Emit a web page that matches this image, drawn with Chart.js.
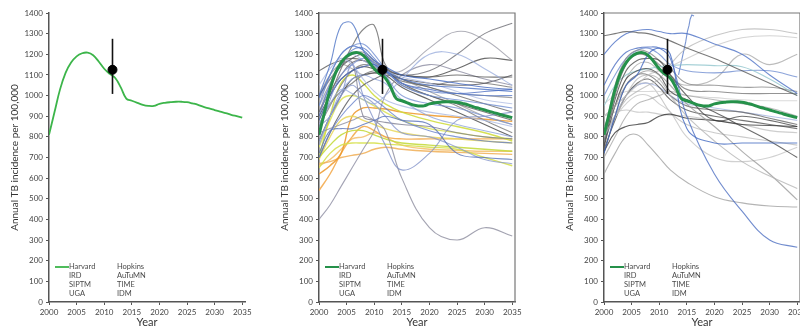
<!DOCTYPE html>
<html>
<head>
<meta charset="utf-8">
<script src="https://cdn.jsdelivr.net/npm/chart.js@4/dist/chart.umd.min.js"></script>
<style>
  body { margin: 0; width: 800px; height: 329px; overflow: hidden; background: #fff; position: relative; }
  canvas { position: absolute; top: 0; }
</style>
</head>
<body>
<canvas id="panel1" width="268" height="329" style="left:0px"></canvas>
<canvas id="panel2" width="268" height="329" style="left:270px"></canvas>
<canvas id="panel3" width="268" height="329" style="left:555px"></canvas>
<script>
// ---- data ----
const harvardYears = [2000,2001,2002,2003,2004,2005,2006,2007,2008,2009,2010,2011,2012,2013,2014,2015,2016,2017,
  2018,2019,2020,2021,2022,2023,2024,2025,2026,2027,2028,2029,2030,2031,2032,2033,2034,2035];
const harvard = [810,920,1030,1110,1160,1190,1205,1208,1195,1165,1130,1105,1085,1040,985,975,965,955,
  950,950,960,965,968,970,970,968,962,955,945,938,930,922,915,907,900,893];

const observedYear = 2011.5;
const observedValue = 1125;
const observedRange = [1008, 1275];

const legendCol1 = ['Harvard', 'IRD', 'SIPTM', 'UGA'];
const legendCol2 = ['Hopkins', 'AuTuMN', 'TIME', 'IDM'];

// sampled years for the other model runs
const runYears = [2000, 2002, 2004, 2006, 2008, 2010, 2012, 2015, 2020, 2025, 2030, 2035];

const panel2Runs = [
  [1000,1150,1340,1350,1220,1150,1120,1080,1050,1040,1030,1020],
  [950,1100,1200,1240,1250,1200,1130,1050,1000,980,960,940],
  [900,1050,1150,1220,1230,1180,1120,1060,1020,1010,1000,1000],
  [820,980,1100,1150,1180,1160,1100,1000,960,940,900,860],
  [780,900,1020,1080,1100,1080,1060,980,900,860,830,800],
  [860,960,1030,1010,980,960,1000,1080,1200,1200,1130,1050],
  [700,820,900,960,1000,980,940,880,830,800,780,770],
  [1050,1130,1180,1150,1080,1020,980,950,920,900,880,850],
  [720,830,840,840,860,880,900,880,860,720,700,690],
  [760,900,1000,1050,1000,960,900,820,800,750,690,670],
  [990,1100,1200,1240,1220,1170,1140,1100,1080,1060,1040,1030],
  [880,1000,1080,1120,1140,1150,1120,1060,1030,1010,1020,1030],
  [850,900,1000,1150,1000,880,760,640,720,880,900,920],
  [950,1050,1160,1200,1170,1140,1120,1090,1060,1020,980,960],
  [880,1000,1130,1240,1320,1340,1150,1080,1040,1000,960,920],
  [1120,1150,1170,1180,1170,1140,1120,1100,1090,1100,1090,1090],
  [920,1020,1100,1160,1170,1150,1130,1100,1120,1200,1300,1350],
  [980,1080,1150,1200,1200,1160,1120,1120,1230,1310,1270,1170],
  [900,1000,1080,1120,1140,1130,1120,1100,1090,1130,1180,1170],
  [400,470,560,650,740,830,1000,1100,1150,1120,1080,1050],
  [820,840,860,880,900,880,830,600,360,300,360,320],
  [1000,1080,1140,1180,1200,1160,1130,1060,1000,960,920,880],
  [850,950,1050,1120,1150,1140,1120,1050,1000,950,880,820],
  [780,900,1000,1080,1100,1110,1100,1040,980,920,860,800],
  [950,1060,1160,1200,1210,1170,1130,1080,1040,1010,1000,990],
  [700,820,920,1000,1050,1080,1100,1080,1060,1050,1060,1100],
  [1000,1100,1150,1130,1100,1110,1110,1080,1020,960,900,860],
  [860,960,1020,1060,1100,1120,1110,1070,1050,1070,1060,1040],
  [920,1050,1150,1160,900,880,870,860,850,820,800,790],
  [700,900,1060,1100,1060,1000,960,920,880,850,820,780],
  [750,880,980,1000,980,950,920,880,840,820,800,790],
  [700,760,810,830,830,810,790,770,760,750,740,730],
  [650,720,760,770,770,770,765,760,750,740,700,660],
  [690,800,880,900,880,860,840,820,800,790,780,770],
  [620,660,720,900,940,940,935,920,905,895,885,875],
  [540,620,720,800,850,830,800,790,790,790,790,790],
  [670,680,700,710,720,740,750,740,730,725,720,715],
  [660,690,740,790,800,820,800,760,740,735,730,730]
];
const panel2Colors = [
  '#4a72c4','#6d8bd0','#5a7cc8','#7a93d4','#8fa3da','#9aaedc','#6680c8','#a8b8e0','#5570b8','#8898cc',
  '#3f66bf','#4d6ec2','#8090c8','#b0bde3','#666666','#555555','#6a6a72','#9a9aa6','#444444','#8a8aa0',
  '#8a8a9c','#555555','#777777','#3f3f3f','#888888','#505058','#9b9b9b','#6e6e6e','#7c7c90',
  '#cfdc3c','#dde45a','#c4d93a','#d6e04c','#e8d860','#ee9a2c','#f2a84a','#f0b05a','#f4c070'
];

const panel3Runs = [
  [1290,1300,1310,1305,1300,1285,1265,1230,1180,1120,1060,1000],
  [1200,1260,1300,1315,1320,1310,1300,1300,1250,1200,1100,1010],
  [1050,1150,1210,1230,1235,1230,1180,900,620,440,300,265],
  [720,900,1050,1100,1200,1230,1200,840,770,770,770,770],
  [620,720,800,810,760,700,640,580,510,480,465,460],
  [800,900,1000,1080,1100,1080,1000,900,780,680,610,550],
  [850,950,1050,1100,1120,1100,1050,960,850,730,620,495],
  [750,950,1080,1120,1130,1100,1020,980,920,850,780,700],
  [730,820,850,860,870,900,910,890,880,860,855,850],
  [760,980,1120,1170,1180,1170,1100,1000,880,900,880,850],
  [820,900,980,1020,1050,1080,1150,1230,1290,1320,1320,1300],
  [900,950,1000,1050,1100,1120,1140,1180,1240,1280,1290,1280],
  [950,1050,1100,1120,1130,1140,1145,1150,1145,1140,1080,1000],
  [780,1000,1150,1200,1190,1150,1100,1030,1020,1010,1010,1010],
  [800,1050,1180,1220,1210,1170,1130,1060,1050,1040,1040,1020],
  [720,900,1050,1100,1100,1060,1000,950,930,920,890,860],
  [900,920,930,920,920,910,905,900,880,860,830,820],
  [700,800,900,960,980,1000,1020,1000,980,960,940,900],
  [850,900,960,1000,1000,960,920,800,700,680,700,750],
  [1000,1100,1180,1220,1230,1200,1150,1120,1110,1120,1120,1090],
  [820,950,1080,1150,1160,1120,1080,1050,1080,1200,1150,1200],
  [740,880,1000,1060,1080,1040,980,930,900,880,860,840],
  [960,1000,1020,1020,1020,1020,1010,1000,990,980,975,975],
  [780,900,1000,1050,1060,1040,1000,960,940,920,900,880],
  [900,950,1000,1050,1060,1000,920,860,820,800,780,760]
];
const panel3Colors = [
  '#555555','#4a6fc4','#4a6cc0','#3f66bf','#a0a0a0','#b4b4b4','#999999','#444444','#333333','#4a4a4a',
  '#b8b8b8','#c8c8c8','#8fc4cc','#777777','#888888','#666666','#c0c0c0','#a8a8a8','#c4c4c4','#6d8bd0',
  '#aaaaaa','#505050','#d0d0d0','#a3b4e0','#bdbdbd'
];

// jagged blue run near 2015 in the third panel
const spikeYears = [2013.5, 2014.3, 2014.8, 2015.1, 2015.4, 2015.6, 2015.9, 2016.3];
const spikeValues = [1100, 1200, 1260, 1310, 1340, 1370, 1390, 1385];

// ---- drawing ----
const FONT = 'Lato, "Open Sans", sans-serif';

const pts = (xs, ys) => xs.map((x, i) => ({ x: x, y: ys[i] }));

const legendPlugin = {
  id: 'modelLegend',
  afterDatasetsDraw(chart, args, opts) {
    const { ctx, chartArea } = chart;
    const l = chartArea.left, b = chartArea.bottom;
    ctx.save();
    ctx.font = '7.5px ' + FONT;
    ctx.fillStyle = '#4a4a4a';
    ctx.textBaseline = 'middle';
    legendCol1.forEach((t, i) => ctx.fillText(t, l + 20, b - 35 + i * 9));
    legendCol2.forEach((t, i) => ctx.fillText(t, l + 68, b - 35 + i * 9));
    ctx.strokeStyle = opts.color;
    ctx.lineWidth = opts.width;
    ctx.beginPath();
    ctx.moveTo(l + 6, b - 35);
    ctx.lineTo(l + 20, b - 35);
    ctx.stroke();
    ctx.restore();
  }
};

const framePlugin = {
  id: 'frame',
  afterDraw(chart, args, opts) {
    if (!opts.show) return;
    const { ctx, chartArea } = chart;
    ctx.save();
    ctx.strokeStyle = '#777';
    ctx.lineWidth = 1.2;
    ctx.beginPath();
    ctx.moveTo(chartArea.left, chartArea.top);
    ctx.lineTo(chartArea.right, chartArea.top);
    ctx.lineTo(chartArea.right, chartArea.bottom);
    ctx.stroke();
    ctx.restore();
  }
};

function makePanel(id, runs, colors, greenColor, greenWidth, boxed, extra) {
  const datasets = [
    { type: 'scatter', data: [{ x: observedYear, y: observedValue }], pointRadius: 4.5,
      backgroundColor: '#000', borderColor: '#000', order: 0 },
    { type: 'line', data: pts([observedYear, observedYear], observedRange), borderColor: '#111',
      borderWidth: 1.6, pointRadius: 0, tension: 0, order: 1 },
    { type: 'line', label: 'Harvard', data: pts(harvardYears, harvard), borderColor: greenColor,
      borderWidth: greenWidth, pointRadius: 0, tension: 0.4, order: 2 }
  ];
  runs.forEach((vals, i) => {
    const warm = i >= 29 && runs.length > 30;
    datasets.push({ type: 'line', data: pts(runYears, vals), borderColor: colors[i] + (warm ? 'e0' : 'c8'),
      borderWidth: warm ? 1.4 : 1.1, pointRadius: 0, tension: 0.4, order: 3 });
  });
  (extra || []).forEach(d => datasets.push(d));

  return new Chart(document.getElementById(id), {
    type: 'line',
    data: { datasets },
    plugins: [legendPlugin, framePlugin],
    options: {
      responsive: false,
      animation: false,
      layout: { padding: { left: 9, top: 13, right: 23, bottom: 0 } },
      plugins: {
        legend: { display: false },
        tooltip: { enabled: false },
        modelLegend: { color: greenColor, width: Math.min(greenWidth, 2) },
        frame: { show: boxed }
      },
      scales: {
        x: {
          type: 'linear', min: 2000, max: 2035.5,
          afterFit: s => { s.height = 27; },
          border: { display: true, color: '#555', width: 1.5 },
          grid: { display: true, drawOnChartArea: false, tickLength: 3, color: '#555' },
          ticks: { stepSize: 5, includeBounds: false, autoSkip: false, maxRotation: 0, padding: 3,
            color: '#444', font: { family: FONT, size: 8 },
            callback: v => (v % 5 === 0 ? String(v) : '') },
          title: { display: true, text: 'Year', color: '#333', padding: 0,
            font: { family: FONT, size: 11 } }
        },
        y: {
          min: 0, max: 1400,
          afterFit: s => { s.width = 40; },
          border: { display: true, color: '#555', width: 1.5 },
          grid: { display: true, drawOnChartArea: false, tickLength: 3, color: '#555' },
          ticks: { stepSize: 100, padding: 3, color: '#444', font: { family: FONT, size: 8 },
            callback: v => String(v) },
          title: { display: true, text: 'Annual TB incidence per 100,000', color: '#333',
            padding: { top: 0, bottom: 2 }, font: { family: FONT, size: 10 } }
        }
      }
    }
  });
}

makePanel('panel1', [], [], '#3cb54a', 1.8, false);
makePanel('panel2', panel2Runs, panel2Colors, '#25914a', 3, true);
makePanel('panel3', panel3Runs, panel3Colors, '#25914a', 3, true, [
  { type: 'line', data: pts(spikeYears, spikeValues), borderColor: '#5a7cc8d0', borderWidth: 1.1,
    pointRadius: 0, tension: 0, order: 3 }
]);
</script>
</body>
</html>
